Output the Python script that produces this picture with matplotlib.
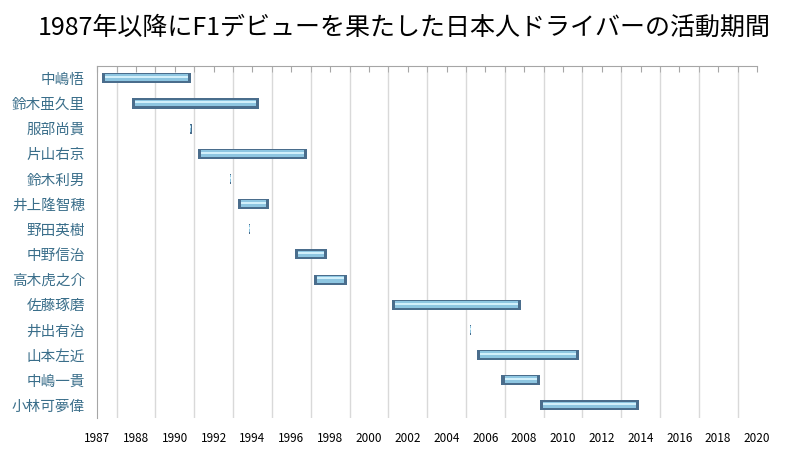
import numpy as np
import matplotlib
matplotlib.use("Agg")
import matplotlib.pyplot as plt

plt.rcParams["font.family"] = ["Noto Sans CJK JP", "DejaVu Sans"]

# drivers, top to bottom, and career span (fractional years)
drivers = ["中嶋悟", "鈴木亜久里", "服部尚貴", "片山右京", "鈴木利男", "井上隆智穂", "野田英樹",
           "中野信治", "高木虎之介", "佐藤琢磨", "井出有治", "山本左近", "中嶋一貴", "小林可夢偉"]
start = [1987.24, 1988.80, 1991.78, 1992.18, 1993.82, 1994.25, 1994.82,
         1997.17, 1998.19, 2002.17, 2006.20, 2006.56, 2007.83, 2009.82]
end = [1991.83, 1995.35, 1991.86, 1997.81, 1993.89, 1995.87, 1994.89,
       1998.82, 1999.86, 2008.86, 2006.28, 2011.83, 2009.84, 2014.91]

# axis labels (Excel-style date axis: labels sit on odd-year gridlines)
tick_pos = [1987] + list(range(1989, 2022, 2))
tick_labels = ["1987", "1988"] + [str(y) for y in range(1990, 2021, 2)]

start = np.array(start)
end = np.array(end)
width = end - start
y = np.arange(len(drivers))

fig = plt.figure(figsize=(8, 4.63), dpi=100, facecolor="white")
ax = fig.add_axes([0.1216, 0.0972, 0.8246, 0.7608])

# bevelled bars: dark frame, light body, highlight stripe
ax.barh(y, width, left=start, height=0.40, color="#4a6d8c", zorder=3)
inset = np.minimum(0.16, width * 0.2)
ax.barh(y - 0.02, width - 2 * inset, left=start + inset, height=0.27,
        color="#8ec6e1", zorder=4)
ax.barh(y - 0.05, width - 2 * inset, left=start + inset, height=0.08,
        color="#d2f0fb", zorder=5)

ax.set_xlim(1987, 2021)
ax.set_ylim(len(drivers) - 0.5, -0.5)

ax.set_yticks(y)
ax.set_yticklabels(drivers, fontsize=10.5, color="#3a6e8a")
ax.tick_params(axis="y", length=0, pad=9)

ax.set_xticks(tick_pos)
ax.set_xticklabels(tick_labels, fontsize=8.5, color="black")
ax.set_xticks(np.arange(1987, 2022), minor=True)
ax.tick_params(axis="x", which="both", top=True, bottom=False, direction="in",
               length=4, color="#a6a6a6", labelbottom=True, labeltop=False, pad=10)
ax.grid(axis="x", which="minor", color="#d9d9d9", linewidth=1, zorder=0)
ax.set_axisbelow(True)

for s in ["right", "bottom"]:
    ax.spines[s].set_visible(False)
ax.spines["left"].set_color("#a6a6a6")
ax.spines["top"].set_color("#a6a6a6")

fig.text(0.505, 0.94, "1987年以降にF1デビューを果たした日本人ドライバーの活動期間",
         ha="center", va="center", fontsize=18, color="black")

fig.savefig("out.png", dpi=100)
